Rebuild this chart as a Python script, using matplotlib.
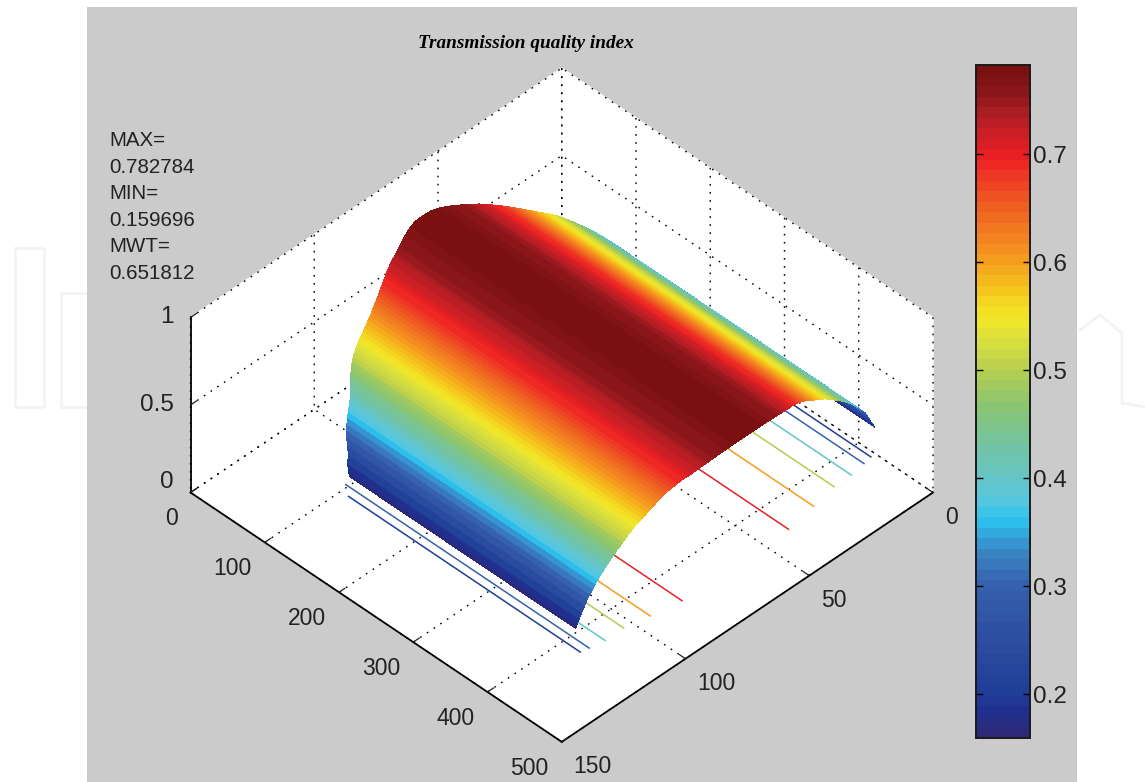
"""Transmission quality index surface with floor contours and colorbar."""

import matplotlib

matplotlib.use("Agg")
import matplotlib.pyplot as plt
import numpy as np
from matplotlib.cm import ScalarMappable
from matplotlib.colors import LinearSegmentedColormap, Normalize
from matplotlib.lines import Line2D
from matplotlib.patches import Rectangle
from mpl_toolkits.mplot3d import proj3d

WIDTH, HEIGHT = 1145, 782

TITLE = "Transmission quality index"
NOTE_LINES = ["MAX=", "0.782784", "MIN=", "0.159696", "MWT=", "0.651812"]

X_TICKS = [0, 50, 100, 150]
Y_TICKS = [0, 100, 200, 300, 400, 500]
Z_TICKS = [0, 0.5, 1]
Z_TICK_LABELS = ["0", "0.5", "1"]
CBAR_TICKS = [0.2, 0.3, 0.4, 0.5, 0.6, 0.7]

Z_MIN = 0.159696
Z_MAX = 0.782784

# colour at these index values
CMAP_VALUES = [0.1597, 0.18, 0.20, 0.25, 0.30, 0.33, 0.345, 0.36, 0.38, 0.40, 0.43, 0.47,
               0.50, 0.53, 0.55, 0.57, 0.60, 0.63, 0.66, 0.70, 0.74, 0.76, 0.7828]
CMAP_COLORS = ["#2a2a78", "#21308f", "#1f3f97", "#2e4ea3", "#3562ae", "#3a86c3", "#33a4dc", "#2bc3ef",
               "#5ac6de", "#65c5c5", "#73c3a3", "#8cc56f", "#b6ce50", "#dcdf3c", "#f2e829", "#f5cf1e",
               "#f6a21e", "#f27c20", "#ee5823", "#ee2024", "#b01e24", "#8d171c", "#7a1010"]

RIDGE_X = 61
PROFILE_OFFSET = [0, 3, 6, 9, 12, 13, 14, 15, 16, 17, 18, 19, 20, 21, 22, 23, 24, 25, 26, 27, 28, 29, 30,
                  31, 32, 33, 34, 35, 36, 37, 38, 39, 40, 41, 42, 43, 44, 45, 46, 47, 48, 49, 50, 51,
                  52, 53, 54, 55, 56, 57, 58, 59, 60, 60.5]
PROFILE_Z = [0.7828, 0.7812, 0.7764, 0.7683, 0.757, 0.7525, 0.7477, 0.7425, 0.737, 0.7311, 0.7248, 0.7182,
             0.7112, 0.7037, 0.696, 0.689, 0.682, 0.674, 0.666, 0.657, 0.648, 0.639, 0.630, 0.620, 0.610,
             0.600, 0.590, 0.580, 0.570, 0.561, 0.552, 0.541, 0.530, 0.519, 0.507, 0.494, 0.483, 0.470,
             0.457, 0.443, 0.430, 0.416, 0.400, 0.384, 0.366, 0.348, 0.328, 0.308, 0.290, 0.262, 0.232,
             0.200, 0.172, 0.1597]
FAR_EDGE_Y = [16.5, 16.5, 18.5, 22, 26, 27, 28.5, 29.5, 30.5, 31.5, 32.5, 34, 35, 36.5, 38, 39.5, 41, 42.5,
              44, 45.5, 46.5, 48, 49, 50.5, 51.5, 52.5, 53.5, 54.5, 55.5, 56.5, 57.5, 58.5, 59.5, 61, 62.5,
              64.5, 67, 69.5, 72.5, 75, 78.5, 81.5, 85, 87, 89.5, 91.5, 94, 97, 100.5, 104.5, 109.5, 111.5,
              116.5, 119]
NEAR_EDGE_Y = [454.5, 454.5, 453.5, 452.5, 450.5, 450, 449, 448.5, 447.5, 446.5, 445.5, 444.5, 443.5, 442,
               440.5, 439.5, 438.5, 437.5, 436.5, 435.5, 434.5, 434, 433.5, 433, 432.5, 432, 431.5, 431,
               430.5, 430, 429.5, 429, 429, 428.5, 428.5, 428, 428, 427.5, 427.5, 427, 427, 426.5, 426.5,
               426, 425.5, 425.5, 425, 425, 424.5, 424.5, 424, 423.5, 423.5, 423.5]

# floor contours, each a pair of straight lines
CONTOUR_LEVELS = [0.2, 0.3, 0.4, 0.5, 0.6, 0.7]
CONTOUR_X_LOW = [1.85, 5.25, 11.25, 18.25, 28.25, 40.25]
CONTOUR_X_HIGH = [119.25, 116.25, 110.75, 103.25, 94.25, 83.25]
CONTOUR_Y_START = [110.5, 96.5, 90, 80, 70, 60]
CONTOUR_Y_END = [422.5, 424.5, 427.5, 427.5, 433.5, 439.5]

cmap_pos = [(v - Z_MIN) / (Z_MAX - Z_MIN) for v in CMAP_VALUES]
cmap_pos[0], cmap_pos[-1] = 0.0, 1.0
cmap = LinearSegmentedColormap.from_list("index_jet", list(zip(cmap_pos, CMAP_COLORS)), N=64)
norm = Normalize(Z_MIN, Z_MAX)

TEXT_COLOR = "#222222"
plt.rcParams["font.family"] = ["Liberation Sans", "DejaVu Sans"]
plt.rcParams["text.color"] = TEXT_COLOR

fig = plt.figure(figsize=(WIDTH / 100, HEIGHT / 100), dpi=100, facecolor="white")


def fx(px):
    return px / WIDTH


def fy(py):
    return 1 - py / HEIGHT


# faint watermark letters on the white margin
for path in [
    ([15, 44, 44, 15, 15], [248, 248, 407, 407, 248]),
    ([87, 61, 61, 87], [293, 293, 407, 407]),
    ([1080, 1100, 1122, 1122, 1145], [330, 315, 333, 403, 407]),
]:
    fig.add_artist(Line2D([fx(v) for v in path[0]], [fy(v) for v in path[1]],
                          color="#f3f3f3", linewidth=2, zorder=0))

fig.add_artist(Rectangle((fx(87), 0), fx(1077 - 87), fy(7), facecolor="#cbcbcb", edgecolor="none", zorder=0))

ax = fig.add_subplot(projection="3d", computed_zorder=False)
ax.set_proj_type("ortho")
ax.view_init(elev=42.2, azim=45)
ax.set_box_aspect((1, 1, 0.45))
ax.set_xlim(0, 150)
ax.set_ylim(0, 500)
ax.set_zlim(0, 1)
ax.patch.set_alpha(0)

# place the axes so the box corners land where they are in the reference
xl, yl, _ = proj3d.proj_transform(150, 0, 0, ax.get_proj())
xr, _, _ = proj3d.proj_transform(0, 500, 0, ax.get_proj())
view = ax.viewLim
scale = (933 - 190.5) / (xr - xl)
side = view.width * scale
left = 190.5 - (xl - view.x0) * scale
bottom = (HEIGHT - 492.5) - (yl - view.y0) * scale
ax.set_position([left / WIDTH, bottom / HEIGHT, side / WIDTH, side / HEIGHT])

offset = np.array(PROFILE_OFFSET)
strip_x = np.concatenate([RIDGE_X - offset[:0:-1], RIDGE_X + offset])
strip_z = np.array(PROFILE_Z[:0:-1] + PROFILE_Z)
strip_far = np.array(FAR_EDGE_Y[:0:-1] + FAR_EDGE_Y)
strip_near = np.array(NEAR_EDGE_Y[:0:-1] + NEAR_EDGE_Y)

grid_x = np.vstack([strip_x, strip_x])
grid_y = np.vstack([strip_far, strip_near])
grid_z = np.vstack([strip_z, strip_z])

for level, low, high, start, end in zip(CONTOUR_LEVELS, CONTOUR_X_LOW, CONTOUR_X_HIGH,
                                        CONTOUR_Y_START, CONTOUR_Y_END):
    for x_value in (low, high):
        ax.plot([x_value, x_value], [start, end], [0, 0], color=cmap(norm(level)), linewidth=1.1, zorder=1)

ax.plot_surface(grid_x, grid_y, grid_z, rstride=1, cstride=1, cmap=cmap, norm=norm,
                linewidth=0, antialiased=False, shade=False, zorder=2)

ax.set_xticks(X_TICKS)
ax.set_yticks(Y_TICKS)
ax.set_zticks(Z_TICKS)
ax.set_zticklabels(Z_TICK_LABELS)

for axis in (ax.xaxis, ax.yaxis, ax.zaxis):
    axis.set_pane_color("white")
    axis.pane.set_edgecolor("white")
    axis.line.set_color("black")
    axis.line.set_linewidth(1.3)
    axis._axinfo["grid"].update(color="black", linewidth=1.0, linestyle=(0, (1.2, 4.6)))
    axis._axinfo["tick"].update(inward_factor=0.0, outward_factor=0.2, linewidth={True: 0.9, False: 0.9})
ax.tick_params(axis="x", labelsize=16.5, colors=TEXT_COLOR, pad=1)
ax.tick_params(axis="y", labelsize=16.5, colors=TEXT_COLOR, pad=2)
ax.tick_params(axis="z", labelsize=17.5, colors=TEXT_COLOR, pad=-1.6)
for label in ax.get_xticklabels():
    label.set_ha("left")
    label.set_va("top")
for label in ax.get_yticklabels():
    label.set_ha("right")
    label.set_va("top")
for label, text in zip(ax.get_zticklabels(), Z_TICK_LABELS):
    label.set_ha("right")
    label.set_va("bottom" if text == "0" else "center")

for i, line in enumerate(NOTE_LINES):
    fig.text(fx(109), fy(140.5 + i * 26.6), line, fontsize=14.8, va="center", ha="left", color=TEXT_COLOR)

fig.text(fx(526), fy(43), TITLE, family="Liberation Serif", fontsize=13.9, fontweight="bold", fontstyle="italic",
         ha="center", va="center", color="black")

cax = fig.add_axes([fx(976), fy(738), fx(1030 - 976), (738 - 65) / HEIGHT])
cbar = fig.colorbar(ScalarMappable(norm=norm, cmap=cmap), cax=cax, ticks=CBAR_TICKS)
cbar.outline.set_linewidth(1.4)
cbar.outline.set_edgecolor("#1a1a1a")
cax.tick_params(axis="y", direction="in", left=True, right=True, length=5, width=1.0, color="black",
                labelsize=17.5, labelcolor=TEXT_COLOR, pad=2)
cax.minorticks_off()

fig.savefig("out.png", dpi=100, facecolor="white")
